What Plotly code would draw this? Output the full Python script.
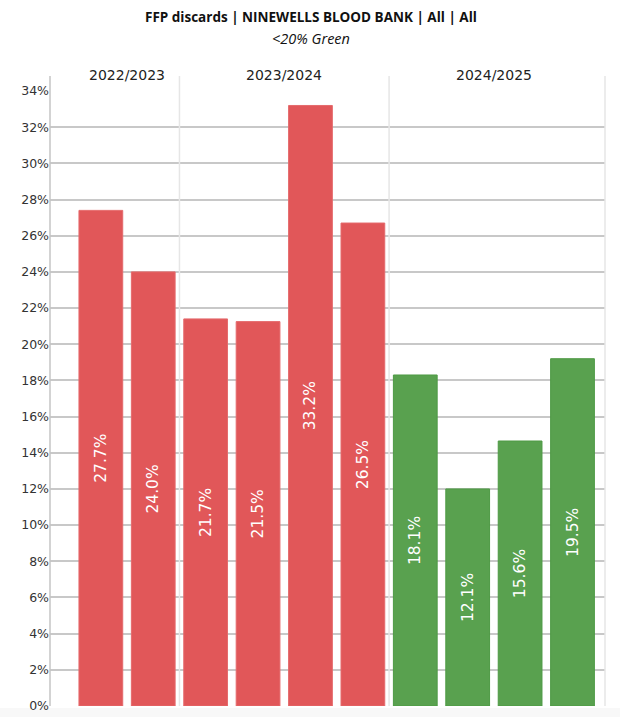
import plotly.graph_objects as go

# ---- data ----
periods = ["P1", "P2", "P3", "P4", "P5", "P6", "P7", "P8", "P9", "P10"]
seasons = ["2022/2023", "2022/2023",
           "2023/2024", "2023/2024", "2023/2024", "2023/2024",
           "2024/2025", "2024/2025", "2024/2025", "2024/2025"]
bar_values = [27.4, 24.0, 21.4, 21.25, 33.2, 26.7, 18.3, 12.0, 14.65, 19.2]
label_values = [27.7, 24.0, 21.7, 21.5, 33.2, 26.5, 18.1, 12.1, 15.6, 19.5]
season_names = ["2022/2023", "2023/2024", "2024/2025"]
y_ticks = list(range(0, 35, 2))

RED = "#E15759"
GREEN = "#59A14F"
colors = [GREEN if v < 20 else RED for v in label_values]
edge = ["#4e9a45" if v < 20 else "#e56a6c" for v in label_values]

W, H = 620, 717
ML, MR, MT, MB = 50, 15, 91, 11
ph = H - MT - MB
pw = W - ML - MR

def py(pix):  # pixel row -> paper y
    return (H - MB - pix) / ph

def px(pix):  # pixel col -> paper x
    return (pix - ML) / pw

x_lo, x_hi = -0.97, 9.62

fig = go.Figure()
fig.add_trace(go.Bar(
    x=periods, y=bar_values,
    marker=dict(color=colors, line=dict(color=edge, width=1)),
    text=[f"{v:.1f}%" for v in label_values],
    textposition="inside", insidetextanchor="middle", textangle=-90,
    textfont=dict(color="white", size=15.5, family="DejaVu Sans"),
    hoverinfo="skip",
))

shapes = []
# season dividers
bounds = []
idx = 0
for s in season_names:
    n = seasons.count(s)
    bounds.append((idx - 0.5, idx + n - 0.5))
    idx += n
for (a, b) in bounds[:-1]:
    shapes.append(dict(type="line", xref="x", yref="paper", x0=b, x1=b,
                       y0=0, y1=py(76), line=dict(color="#e6e6e6", width=1.5)))
# right border
shapes.append(dict(type="line", xref="paper", yref="paper", x0=1, x1=1,
                   y0=0, y1=py(76), line=dict(color="#e6e6e6", width=1.5)))
# left axis line
shapes.append(dict(type="line", xref="paper", yref="paper", x0=0, x1=0,
                   y0=0, y1=py(76), line=dict(color="#c4c4c4", width=1.5)))
# light strip under the plot
shapes.append(dict(type="rect", xref="paper", yref="paper", x0=px(0), x1=px(W),
                   y0=py(H), y1=py(708), fillcolor="#f8f8f8", line=dict(width=0),
                   layer="below"))

annotations = []
for s, (a, b) in zip(season_names, bounds):
    lo = max(a, x_lo)
    hi = min(b, x_hi)
    annotations.append(dict(text=s, x=(lo + hi) / 2, xref="x", y=py(75), yref="paper",
                            showarrow=False, xanchor="center", yanchor="middle",
                            font=dict(size=14, color="#222222", family="DejaVu Sans")))
annotations.append(dict(text="<b>FFP discards | NINEWELLS BLOOD BANK | All | All</b>",
                        x=px(311), xref="paper", y=py(17), yref="paper", showarrow=False,
                        xanchor="center", yanchor="middle",
                        font=dict(size=13.5, color="#111111", family="Open Sans")))
annotations.append(dict(text="<i>&lt;20% Green</i>",
                        x=px(311), xref="paper", y=py(38), yref="paper", showarrow=False,
                        xanchor="center", yanchor="middle",
                        font=dict(size=14.5, color="#111111", family="Open Sans")))

fig.update_layout(
    width=W, height=H,
    margin=dict(l=ML, r=MR, t=MT, b=MB, pad=0),
    paper_bgcolor="white", plot_bgcolor="white",
    showlegend=False, bargap=0.165,
    shapes=shapes, annotations=annotations,
    xaxis=dict(type="category", range=[x_lo, x_hi], showticklabels=False,
               showgrid=False, zeroline=False, showline=False, ticks=""),
    yaxis=dict(range=[0, 34], tickvals=y_ticks, ticktext=[f"{t}%" for t in y_ticks],
               showgrid=True, gridcolor="#c8c8c8", gridwidth=1.5,
               zeroline=False, showline=False, ticks="", ticklen=0,
               tickfont=dict(size=12.5, color="#333333", family="DejaVu Sans"),
               automargin=False),
)

fig.write_html("out.html", config={"displayModeBar": False},
               post_script="document.body.style.margin='0px';document.body.style.padding='0px';")
